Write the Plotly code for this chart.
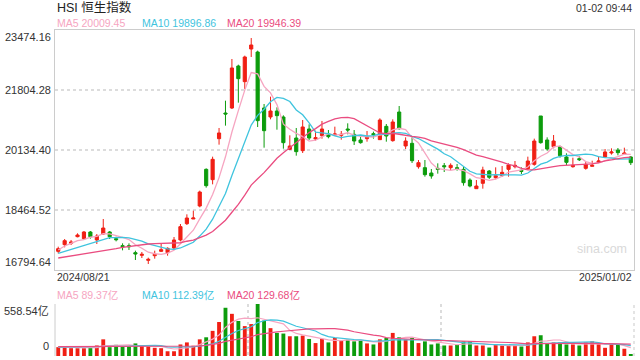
import plotly.graph_objects as go

# ---------------- data ----------------
date_labels = ["2024/08/21", "2025/01/02"]

opens = [17314, 17500, 17537, 17722, 17667, 17852, 17630, 17796, 17852, 17667,
         17472, 17472, 17277, 17203, 17064, 17193, 17314, 17277, 17407, 17630,
         18084, 18214, 18576, 19596, 19309, 20450, 21164, 21303, 22472, 22036,
         22945, 22862, 21303, 21053, 21220, 21053, 20153, 20468, 20116, 20719,
         20441, 20533, 20580, 20552, 20543, 20719, 20570, 20413, 20450, 20589,
         20422, 20793, 20394, 21192, 20246, 20320, 19670, 19643, 19494, 19624,
         19698, 19643, 19643, 19596, 19299, 19058, 19207, 19550, 19364, 19420,
         19596, 19670, 19568, 19615, 19735, 21081, 20413, 20227, 20227, 19940,
         19670, 19893, 19624, 19680, 19800, 19940, 20051, 20134, 20014, 19940]

closes = [17388, 17611, 17574, 17769, 17852, 17722, 17741, 17963, 17722, 17639,
          17444, 17444, 17240, 17231, 17091, 17231, 17360, 17398, 17630, 18001,
          18242, 18242, 18965, 19142, 19875, 20608, 21136, 22417, 22120, 22723,
          23057, 20951, 20672, 21220, 21090, 20338, 20246, 20088, 20775, 20468,
          20478, 20719, 20505, 20580, 20570, 20691, 20385, 20338, 20505, 20561,
          20969, 20524, 20914, 20728, 20385, 19837, 19782, 19448, 19411, 19596,
          19670, 19708, 19615, 19225, 19132, 19132, 19578, 19374, 19420, 19513,
          19717, 19708, 19541, 19828, 20385, 20338, 20162, 20385, 19977, 19791,
          19708, 19865, 19735, 19708, 19828, 20079, 20079, 20060, 20051, 19782]

highs = [17444, 17657, 17630, 17815, 17880, 17880, 17796, 18214, 17880, 17722,
         17537, 17537, 17333, 17296, 17138, 17333, 17518, 17425, 17713, 18075,
         18344, 18446, 19003, 19624, 19949, 20747, 21507, 22667, 22509, 22760,
         23251, 22899, 21415, 21619, 21322, 21099, 20543, 20747, 20969, 20849,
         20672, 20942, 20691, 20784, 20663, 20877, 20691, 20543, 20663, 20645,
         21016, 20858, 20988, 21359, 20487, 20524, 19856, 19856, 19606, 19763,
         19773, 19763, 19745, 19670, 19346, 19299, 19670, 19578, 19652, 19689,
         19763, 19828, 19652, 19949, 20450, 21081, 20487, 20552, 20255, 20042,
         19921, 19967, 19810, 19837, 19949, 20162, 20181, 20190, 20199, 19967]

lows = [17258, 17425, 17490, 17704, 17639, 17667, 17518, 17778, 17657, 17592,
        17342, 17351, 17073, 17129, 16962, 17110, 17296, 17193, 17360, 17592,
        18047, 18214, 18539, 19086, 19179, 20283, 20812, 21275, 21452, 21832,
        22723, 20774, 20199, 20988, 20700, 20171, 20134, 19977, 20051, 20413,
        20394, 20450, 20459, 20524, 20422, 20570, 20274, 20311, 20366, 20450,
        20413, 20366, 20366, 20700, 20162, 19773, 19615, 19392, 19336, 19476,
        19522, 19578, 19559, 19142, 19095, 19058, 19058, 19327, 19318, 19392,
        19392, 19624, 19466, 19578, 19698, 20311, 20116, 20181, 19921, 19717,
        19643, 19828, 19587, 19680, 19782, 19930, 20005, 19986, 19995, 19717]

ma5 = [17351, 17463, 17537, 17611, 17639, 17706, 17732, 17809, 17800, 17758,
       17702, 17642, 17498, 17399, 17290, 17247, 17231, 17262, 17342, 17524,
       17726, 17902, 18216, 18518, 18893, 19366, 19945, 20635, 21231, 21800,
       22290, 22253, 21904, 21724, 21398, 20853, 20713, 20596, 20507, 20383,
       20411, 20505, 20589, 20550, 20570, 20613, 20546, 20513, 20498, 20496,
       20552, 20580, 20695, 20739, 20704, 20478, 20329, 20036, 19773, 19615,
       19581, 19567, 19600, 19563, 19470, 19362, 19336, 19288, 19327, 19403,
       19520, 19546, 19580, 19661, 19836, 19960, 20051, 20220, 20249, 20131,
       20005, 19945, 19813, 19760, 19767, 19841, 19886, 19951, 20019, 20010]

ma10 = [17258, 17314, 17370, 17435, 17490, 17546, 17602, 17657, 17694, 17698,
        17704, 17687, 17654, 17600, 17524, 17475, 17437, 17380, 17371, 17407,
        17487, 17566, 17739, 17931, 18208, 18546, 18924, 19426, 19875, 20347,
        20828, 21099, 21270, 21478, 21599, 21572, 21483, 21250, 21116, 20890,
        20633, 20609, 20593, 20529, 20477, 20512, 20526, 20551, 20524, 20533,
        20582, 20563, 20604, 20619, 20600, 20515, 20454, 20365, 20256, 20159,
        20030, 19948, 19818, 19668, 19542, 19472, 19452, 19444, 19445, 19437,
        19441, 19441, 19434, 19494, 19619, 19740, 19798, 19900, 19955, 19983,
        19982, 19998, 20018, 20005, 19950, 19924, 19915, 19883, 19890, 19889]

ma20 = [17129, 17156, 17184, 17212, 17240, 17268, 17305, 17333, 17360, 17388,
        17425, 17453, 17481, 17500, 17518, 17527, 17537, 17537, 17546, 17553,
        17595, 17627, 17696, 17765, 17866, 18010, 18180, 18402, 18622, 18876,
        19157, 19333, 19504, 19704, 19903, 20059, 20203, 20338, 20495, 20619,
        20730, 20854, 20931, 21003, 21038, 21042, 21005, 20901, 20820, 20713,
        20608, 20586, 20598, 20573, 20538, 20513, 20490, 20458, 20390, 20346,
        20306, 20255, 20210, 20143, 20071, 19993, 19953, 19904, 19851, 19798,
        19735, 19695, 19626, 19580, 19580, 19606, 19625, 19671, 19700, 19709,
        19711, 19720, 19725, 19749, 19785, 19832, 19857, 19891, 19923, 19936]

# turnover, 亿
volume = [95, 102, 84, 84, 84, 88, 113, 179, 95, 120,
          102, 102, 135, 110, 102, 88, 84, 51, 51, 124,
          146, 110, 179, 201, 270, 365, 518, 453, 376, 321,
          343, 558.54, 380, 299, 248, 241, 212, 212, 219, 183,
          139, 183, 146, 193, 164, 175, 157, 168, 135, 124,
          179, 193, 248, 201, 179, 197, 139, 157, 124, 135,
          113, 113, 120, 157, 157, 113, 113, 91, 120, 113,
          113, 113, 102, 146, 212, 223, 131, 146, 146, 124,
          124, 113, 146, 157, 128, 88, 138, 125, 78, 18]

vol_ma5 = [95, 98, 94, 91, 89.8, 88.4, 90.6, 109.6, 111.8, 119.0,
           121.8, 119.6, 110.8, 113.8, 110.2, 107.4, 103.8, 87.0, 75.2, 79.6,
           91.2, 96.4, 122.0, 152.0, 181.2, 225.0, 306.6, 361.4, 396.4, 406.6,
           402.2, 410.4, 395.8, 380.4, 365.8, 345.4, 276.0, 242.4, 226.4, 213.4,
           193.0, 187.2, 174.0, 168.8, 165.0, 172.2, 167.0, 171.4, 159.8, 151.8,
           152.6, 159.8, 175.8, 189.0, 200.0, 203.6, 192.8, 174.6, 159.2, 150.4,
           133.6, 128.4, 121.0, 127.6, 132.0, 132.0, 132.0, 126.2, 118.8, 110.0,
           110.0, 110.0, 112.2, 117.4, 137.2, 159.2, 162.8, 171.6, 171.6, 154.0,
           134.2, 130.6, 130.6, 132.8, 133.6, 126.4, 131.4, 127.2, 111.4, 89.4]

vol_ma10 = [95, 96, 95, 94, 93, 93, 95, 100, 102, 104.4,
            105.1, 105.1, 110.2, 112.8, 114.6, 114.6, 111.7, 98.9, 94.5, 94.9,
            99.3, 100.1, 104.5, 113.6, 130.4, 158.1, 201.5, 241.7, 274.2, 293.9,
            313.6, 358.5, 378.6, 388.4, 386.2, 373.8, 343.2, 319.1, 303.4, 289.6,
            269.2, 231.6, 208.2, 197.6, 189.2, 182.6, 177.1, 172.7, 164.3, 158.4,
            162.4, 163.4, 173.6, 174.4, 175.9, 178.1, 176.3, 175.2, 174.1, 175.2,
            168.6, 160.6, 147.8, 143.4, 141.2, 132.8, 130.2, 123.6, 123.2, 121.0,
            121.0, 121.0, 119.2, 118.1, 123.6, 134.6, 136.4, 141.9, 144.5, 145.6,
            146.7, 146.7, 151.1, 152.2, 143.8, 130.3, 131.0, 128.9, 122.1, 111.5]

vol_ma20 = [100, 100, 100, 100, 100, 100, 100, 101, 101, 101,
            102, 102, 103, 103, 103, 102, 101, 100, 100, 99.7,
            102.2, 102.6, 107.4, 113.2, 122.5, 136.4, 156.6, 170.3, 184.4, 194.4,
            206.5, 229.3, 241.6, 251.0, 258.3, 266.0, 272.4, 280.4, 288.8, 291.8,
            291.4, 295.1, 293.4, 293.0, 287.7, 278.2, 260.2, 245.9, 233.9, 224.0,
            215.8, 197.5, 190.9, 186.0, 182.6, 180.4, 176.7, 174.0, 169.2, 166.8,
            165.5, 162.0, 160.7, 158.9, 158.6, 155.5, 153.3, 149.4, 148.7, 148.1,
            144.8, 140.8, 133.5, 130.8, 132.4, 133.7, 133.3, 132.8, 133.9, 133.3,
            133.9, 133.9, 135.2, 135.2, 133.7, 132.5, 133.7, 135.4, 133.3, 128.6]

price_ticks = [16794.64, 18464.52, 20134.40, 21804.28, 23474.16]
price_tick_labels = ["16794.64", "18464.52", "20134.40", "21804.28", "23474.16"]
vol_max = 558.54
vol_tick_labels = ["0", "558.54亿"]

title_text = "HSI 恒生指数"
time_text = "01-02 09:44"
ma_legend = ["MA5 20009.45", "MA10 19896.86", "MA20 19946.39"]
vol_legend = ["MA5 89.37亿", "MA10 112.39亿", "MA20 129.68亿"]

# ---------------- styling ----------------
RED = "#f01f14"
GREEN = "#0c9c0c"
C_MA5 = "#f6a5c1"
C_MA10 = "#3fc4de"
C_MA20 = "#ea4c80"
BORDER = "#cccccc"
GRID = "#dcdcdc"
FONT = "Liberation Sans, Arial, Noto Sans CJK SC, sans-serif"

W, H = 640, 360
L, R, T, B = 55, 6, 30, 4
PW, PH = W - L - R, H - T - B


def px(X):
    return (X - L) / PW


def py(Y):
    return (H - B - Y) / PH


main_bottom = py(270)
vol_top = py(304)

idx = list(range(len(closes)))
bar_colors = [RED if c >= o else GREEN for o, c in zip(opens, closes)]

fig = go.Figure()
fig.add_trace(go.Candlestick(
    x=idx, open=opens, high=highs, low=lows, close=closes,
    increasing=dict(line=dict(color=RED, width=1), fillcolor=RED),
    decreasing=dict(line=dict(color=GREEN, width=1), fillcolor=GREEN),
    whiskerwidth=0, hoverinfo="skip", xaxis="x", yaxis="y"))
for ys, col in [(ma5, C_MA5), (ma10, C_MA10), (ma20, C_MA20)]:
    fig.add_trace(go.Scatter(x=idx, y=ys, mode="lines", line=dict(color=col, width=1.3),
                             hoverinfo="skip", xaxis="x", yaxis="y"))

fig.add_trace(go.Bar(x=idx, y=volume, marker=dict(color=bar_colors, line=dict(width=0)),
                     width=0.6, hoverinfo="skip", xaxis="x2", yaxis="y2"))
for ys, col in [(vol_ma5, C_MA5), (vol_ma10, C_MA10), (vol_ma20, C_MA20)]:
    fig.add_trace(go.Scatter(x=idx, y=ys, mode="lines", line=dict(color=col, width=1.2),
                             hoverinfo="skip", xaxis="x2", yaxis="y2"))

n = len(closes)
xr = [-0.5, n - 0.5]

ann = []


def text(x, y, s, size, color, xanchor="left", yanchor="middle", xref="paper", yref="paper",
         xshift=0, yshift=0):
    ann.append(dict(x=x, y=y, text=s, xref=xref, yref=yref, xanchor=xanchor, yanchor=yanchor,
                    showarrow=False, xshift=xshift, yshift=yshift,
                    font=dict(size=size, color=color, family=FONT)))


text(0, py(8), title_text, 12.5, "#222222")
text(1, py(8), time_text, 10.5, "#333333", xanchor="right")
for s, X, col in zip(ma_legend, [55, 140, 225], [C_MA5, C_MA10, C_MA20]):
    text(px(X), py(23), s, 10.5, col)
for i, (v, s) in enumerate(zip(price_ticks, price_tick_labels)):
    ya = "bottom" if i == 0 else ("top" if i == len(price_ticks) - 1 else "middle")
    text(0, v, s, 11, "#333333", xanchor="right", yanchor=ya, yref="y", xshift=-2,
         yshift=(1 if ya == "top" else 0))
text(0, py(277), date_labels[0], 10.5, "#333333")
text(1, py(277), date_labels[1], 10.5, "#333333", xanchor="right")
for s, X, col in zip(vol_legend, [55, 140, 225], [C_MA5, C_MA10, C_MA20]):
    text(px(X), py(295), s, 10.5, col)
text(0, vol_max, vol_tick_labels[1], 11, "#333333", xanchor="right", yanchor="top", yref="y2",
     xshift=-4, yshift=1)
text(0, 0, vol_tick_labels[0], 11, "#333333", xanchor="right", yanchor="bottom", yref="y2",
     xshift=-4, yshift=2)
text(px(602), py(249), "sina.com", 12.5, "#d9d9d9", xanchor="center")

shapes = [
    dict(type="line", xref="paper", yref="y2", x0=1, x1=1, y0=0, y1=vol_max,
         line=dict(color=GRID, width=1.5, dash="dot")),
    dict(type="line", xref="paper", yref="y2", x0=0, x1=0, y0=0, y1=vol_max,
         line=dict(color=BORDER, width=1)),
]

fig.update_layout(
    width=W, height=H, margin=dict(l=L, r=R, t=T, b=B, pad=0),
    paper_bgcolor="white", plot_bgcolor="white", showlegend=False,
    font=dict(family=FONT, size=11, color="#333333"),
    xaxis=dict(domain=[0, 1], range=xr, anchor="y", showticklabels=False, ticks="",
               showgrid=False, zeroline=False, showline=True, mirror=True,
               linecolor=BORDER, linewidth=1, rangeslider=dict(visible=False), fixedrange=True),
    yaxis=dict(domain=[main_bottom, 1], range=[price_ticks[0], price_ticks[-1]], anchor="x",
               tickvals=price_ticks[1:-1], showticklabels=False, ticks="",
               showgrid=True, gridcolor=GRID, gridwidth=1.5, griddash="dot",
               zeroline=False, showline=True, mirror=True, linecolor=BORDER, linewidth=1,
               fixedrange=True),
    xaxis2=dict(domain=[0, 1], range=xr, anchor="y2", showticklabels=False, ticks="",
                tickvals=[xr[0] + n / 3, xr[0] + 2 * n / 3], showgrid=True, gridcolor=GRID,
                gridwidth=1.5, griddash="dot", zeroline=False, showline=False, fixedrange=True),
    yaxis2=dict(domain=[0, vol_top], range=[0, vol_max], anchor="x2", showticklabels=False,
                ticks="", tickvals=[vol_max], showgrid=True, gridcolor=GRID, gridwidth=1.5,
                griddash="dot", zeroline=False, showline=False, fixedrange=True),
    annotations=ann, shapes=shapes, bargap=0.4,
)

fig.write_html("out.html", config={"displayModeBar": False},
               post_script="document.body.style.margin='0';document.body.style.overflow='hidden';")
